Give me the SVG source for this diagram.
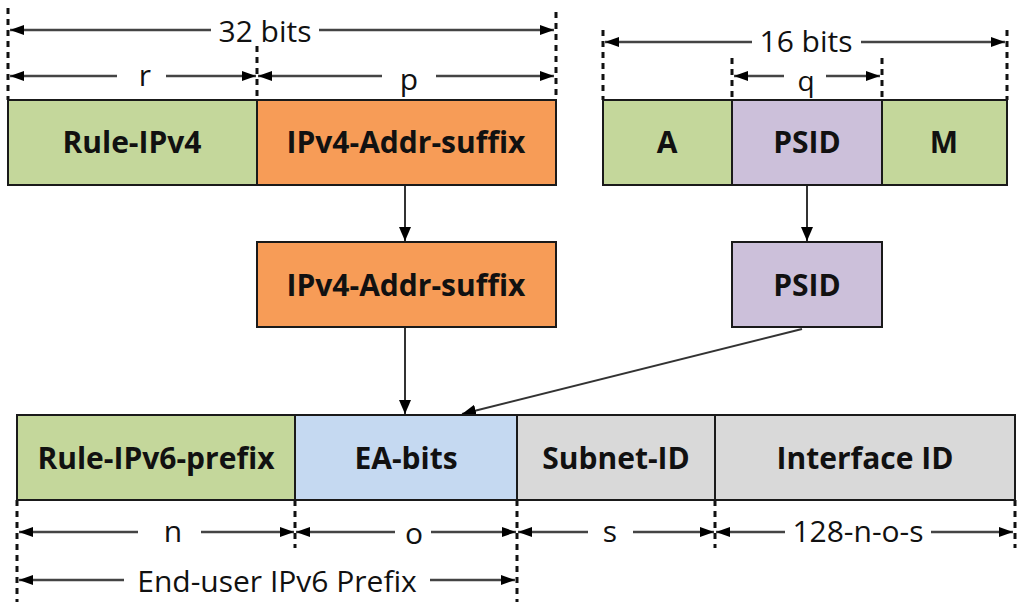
<svg xmlns="http://www.w3.org/2000/svg" width="1032" height="615" viewBox="0 0 1032 615">
<defs>
<marker id="ah" viewBox="0 0 14 10" refX="14" refY="5" markerWidth="14" markerHeight="10" markerUnits="userSpaceOnUse" orient="auto-start-reverse">
<path d="M0,0 L14,5 L0,10 Z" fill="#000"/>
</marker>
<marker id="ch" viewBox="0 0 14 12" refX="14" refY="6" markerWidth="14" markerHeight="12" markerUnits="userSpaceOnUse" orient="auto">
<path d="M0,0 L14,6 L0,12 Z" fill="#000"/>
</marker>
<style>
.box{stroke:#1a1a1a;stroke-width:2}
.g{fill:#c4d79b}.o{fill:#f79c57}.p{fill:#ccc0da}.b{fill:#c5d9f1}.y{fill:#d9d9d9}
.lbl{font-family:"Open Sans","DejaVu Sans",sans-serif;font-weight:bold;font-size:30px;fill:#111;text-anchor:middle;dominant-baseline:central}
.dim{font-family:"Open Sans","DejaVu Sans",sans-serif;font-size:30px;fill:#111;text-anchor:middle;dominant-baseline:central}
.dl{stroke:#444;stroke-width:2.5;fill:none}
.dash{stroke:#111;stroke-width:3;stroke-dasharray:6,5;fill:none}
.conn{stroke:#333;stroke-width:2;fill:none}
</style>
</defs>

<g id="dimensions">
<path class="dash" d="M8,8 V100 M257,46 V100 M556,12 V100"/>
<path class="dash" d="M603,30 V100 M732,58 V100 M882,58 V100 M1007,30 V100"/>
<path class="dash" d="M17,500 V602 M295,500 V548 M517,500 V602 M715,500 V548 M1015,500 V548"/>
<line class="dl" x1="10" y1="30" x2="211" y2="30" marker-start="url(#ah)"/>
<line class="dl" x1="319" y1="30" x2="554" y2="30" marker-end="url(#ah)"/>
<text class="dim" x="265" y="30">32 bits</text>
<line class="dl" x1="10" y1="76" x2="117" y2="76" marker-start="url(#ah)"/>
<line class="dl" x1="166" y1="76" x2="256" y2="76" marker-end="url(#ah)"/>
<text class="dim" x="145" y="74">r</text>
<line class="dl" x1="258" y1="76" x2="382" y2="76" marker-start="url(#ah)"/>
<line class="dl" x1="436" y1="76" x2="554" y2="76" marker-end="url(#ah)"/>
<text class="dim" x="409" y="78">p</text>
<line class="dl" x1="605" y1="42" x2="752" y2="42" marker-start="url(#ah)"/>
<line class="dl" x1="861" y1="42" x2="1005" y2="42" marker-end="url(#ah)"/>
<text class="dim" x="806" y="40">16 bits</text>
<line class="dl" x1="734" y1="76" x2="784" y2="76" marker-start="url(#ah)"/>
<line class="dl" x1="826" y1="76" x2="880" y2="76" marker-end="url(#ah)"/>
<text class="dim" x="806" y="80" style="font-size:28px">q</text>
<line class="dl" x1="19" y1="532" x2="138" y2="532" marker-start="url(#ah)"/>
<line class="dl" x1="201" y1="532" x2="294" y2="532" marker-end="url(#ah)"/>
<text class="dim" x="173" y="530">n</text>
<line class="dl" x1="296" y1="532" x2="395" y2="532" marker-start="url(#ah)"/>
<line class="dl" x1="431" y1="532" x2="516" y2="532" marker-end="url(#ah)"/>
<text class="dim" x="414" y="532">o</text>
<line class="dl" x1="518" y1="532" x2="588" y2="532" marker-start="url(#ah)"/>
<line class="dl" x1="633" y1="532" x2="714" y2="532" marker-end="url(#ah)"/>
<text class="dim" x="610" y="530">s</text>
<line class="dl" x1="716" y1="532" x2="785" y2="532" marker-start="url(#ah)"/>
<line class="dl" x1="931" y1="532" x2="1013" y2="532" marker-end="url(#ah)"/>
<text class="dim" x="858" y="530">128-n-o-s</text>
<line class="dl" x1="19" y1="580" x2="124" y2="580" marker-start="url(#ah)"/>
<line class="dl" x1="430" y1="580" x2="515" y2="580" marker-end="url(#ah)"/>
<text class="dim" x="277" y="580">End-user IPv6 Prefix</text>
</g>

<g id="connectors">
<line class="conn" x1="405" y1="186" x2="405" y2="241" marker-end="url(#ch)"/>
<line class="conn" x1="807" y1="186" x2="807" y2="241" marker-end="url(#ch)"/>
<line class="conn" x1="405" y1="328" x2="405" y2="414" marker-end="url(#ch)"/>
<line class="conn" x1="802" y1="329" x2="462" y2="414" marker-end="url(#ch)"/>
</g>

<g id="rule-ipv4"><rect class="box g" x="8" y="100" width="249" height="85"/><text class="lbl" x="132" y="141">Rule-IPv4</text></g>
<g id="ipv4-addr-suffix-top"><rect class="box o" x="257" y="100" width="299" height="85"/><text class="lbl" x="406" y="141">IPv4-Addr-suffix</text></g>
<g id="a"><rect class="box g" x="603" y="100" width="129" height="85"/><text class="lbl" x="667" y="141">A</text></g>
<g id="psid-top"><rect class="box p" x="732" y="100" width="150" height="85"/><text class="lbl" x="807" y="141">PSID</text></g>
<g id="m"><rect class="box g" x="882" y="100" width="125" height="85"/><text class="lbl" x="944" y="141">M</text></g>
<g id="ipv4-addr-suffix-mid"><rect class="box o" x="257" y="242" width="299" height="85"/><text class="lbl" x="406" y="284">IPv4-Addr-suffix</text></g>
<g id="psid-mid"><rect class="box p" x="732" y="242" width="150" height="85"/><text class="lbl" x="807" y="284">PSID</text></g>
<g id="rule-ipv6-prefix"><rect class="box g" x="17" y="415" width="278" height="85"/><text class="lbl" x="156" y="457">Rule-IPv6-prefix</text></g>
<g id="ea-bits"><rect class="box b" x="295" y="415" width="222" height="85"/><text class="lbl" x="406" y="457">EA-bits</text></g>
<g id="subnet-id"><rect class="box y" x="517" y="415" width="198" height="85"/><text class="lbl" x="616" y="457">Subnet-ID</text></g>
<g id="interface-id"><rect class="box y" x="715" y="415" width="300" height="85"/><text class="lbl" x="865" y="457">Interface ID</text></g>
</svg>
